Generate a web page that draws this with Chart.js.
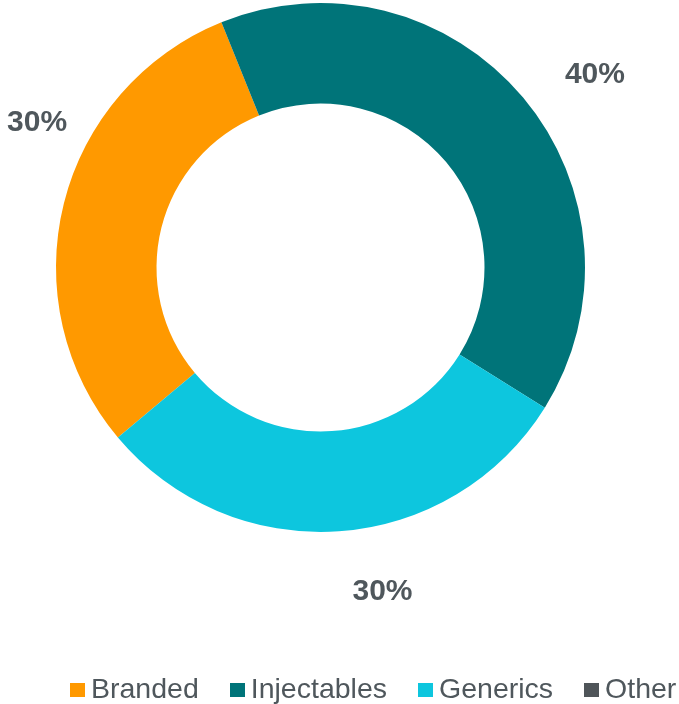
<!DOCTYPE html>
<html>
<head>
<meta charset="utf-8">
<script src="https://cdn.jsdelivr.net/npm/chart.js@4"></script>
<style>
  html, body { margin: 0; padding: 0; background: #ffffff; overflow: hidden; }
  #wrap { position: relative; width: 679px; height: 704px; overflow: hidden; }
  #c { position: absolute; left: 0; top: 0; }
  #legend {
    position: absolute; left: 70px; top: 674px;
    display: flex; align-items: flex-start; white-space: nowrap;
    font-family: "Liberation Sans", Arial, sans-serif; font-size: 28.5px;
    line-height: 28px; color: #4f575c;
  }
  .item { display: flex; align-items: flex-start; margin-right: 31px; }
  .box { width: 15px; height: 14px; margin-right: 6px; margin-top: 9px; flex: none; }
</style>
</head>
<body>
<div id="wrap">
  <canvas id="c" width="679" height="704"></canvas>
  <div id="legend"></div>
</div>
<script>
const categories = ["Branded", "Injectables", "Generics", "Other"];
const shares = [30, 40, 30, 0];
const valueLabels = ["30%", "40%", "30%", ""];
const colors = ["#ff9900", "#007479", "#0dc6de", "#4f5559"];

// label placement relative to each slice's middle angle (degrees, radius factor)
const labelAngleShift = [13.5, 4.6, -6.9, 0];
const labelRadiusFactor = [1.208, 1.273, 1.240, 1.2];

const outsideLabels = {
  id: "outsideLabels",
  afterDraw(chart) {
    const ctx = chart.ctx;
    const meta = chart.getDatasetMeta(0);
    ctx.save();
    ctx.fillStyle = "#4f575c";
    ctx.font = "bold 30px 'Liberation Sans', Arial, sans-serif";
    ctx.textAlign = "center";
    ctx.textBaseline = "alphabetic";
    meta.data.forEach((arc, i) => {
      const txt = valueLabels[i];
      if (!txt) return;
      const p = arc.getProps(["x", "y", "startAngle", "endAngle", "outerRadius"], true);
      const mid = (p.startAngle + p.endAngle) / 2 + labelAngleShift[i] * Math.PI / 180;
      const r = p.outerRadius * labelRadiusFactor[i];
      const x = p.x + r * Math.cos(mid);
      const y = p.y + r * Math.sin(mid);
      ctx.fillText(txt, x, y + 0.36 * 30);
    });
    ctx.restore();
  }
};

new Chart(document.getElementById("c"), {
  type: "doughnut",
  data: {
    labels: categories,
    datasets: [{
      data: shares,
      backgroundColor: colors,
      borderWidth: 0,
      hoverOffset: 0
    }]
  },
  options: {
    responsive: false,
    animation: false,
    rotation: 230,
    cutout: "62%",
    layout: { padding: { left: 56, right: 94, top: 3, bottom: 172 } },
    plugins: {
      legend: { display: false },
      tooltip: { enabled: false }
    }
  },
  plugins: [outsideLabels]
});

const leg = document.getElementById("legend");
categories.forEach((name, i) => {
  const it = document.createElement("div");
  it.className = "item";
  const b = document.createElement("span");
  b.className = "box";
  b.style.background = colors[i];
  const t = document.createElement("span");
  t.textContent = name;
  it.appendChild(b);
  it.appendChild(t);
  leg.appendChild(it);
});
</script>
</body>
</html>
